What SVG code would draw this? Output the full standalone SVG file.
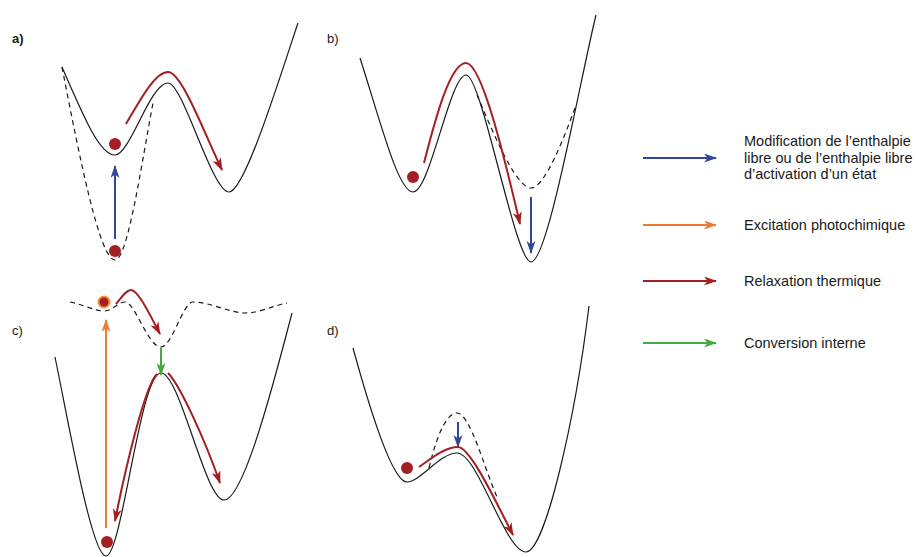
<svg xmlns="http://www.w3.org/2000/svg" width="916" height="557" viewBox="0 0 916 557">
<style>
.curve{fill:none;stroke:#1a1a1a;stroke-width:1.2}
.dash{fill:none;stroke:#1a1a1a;stroke-width:1.2;stroke-dasharray:5,4}
.red{fill:none;stroke:#a41f23;stroke-width:2;marker-end:url(#mRed)}
.blue{fill:none;stroke:#33479a;stroke-width:2;marker-end:url(#mBlue)}
.orange{fill:none;stroke:#ee7b30;stroke-width:2;marker-end:url(#mOrange)}
.green{fill:none;stroke:#45a845;stroke-width:2;marker-end:url(#mGreen)}
.ball{fill:#a41f23}
.lbl{font-family:"Liberation Sans",Arial,sans-serif;font-size:13px;fill:#1a1a1a}
.leg{font-family:"Liberation Sans",Arial,sans-serif;font-size:14.5px;fill:#1a1a1a}
</style>
<defs>
<marker id="mRed" markerUnits="userSpaceOnUse" markerWidth="14" markerHeight="10" refX="12" refY="4.5" orient="auto"><path d="M0,0 L13,4.5 L0,9 L3.5,4.5 z" fill="#a41f23"/></marker>
<marker id="mBlue" markerUnits="userSpaceOnUse" markerWidth="14" markerHeight="10" refX="12" refY="4.5" orient="auto"><path d="M0,0 L13,4.5 L0,9 L3.5,4.5 z" fill="#33479a"/></marker>
<marker id="mOrange" markerUnits="userSpaceOnUse" markerWidth="14" markerHeight="10" refX="12" refY="4.5" orient="auto"><path d="M0,0 L13,4.5 L0,9 L3.5,4.5 z" fill="#ee7b30"/></marker>
<marker id="mGreen" markerUnits="userSpaceOnUse" markerWidth="14" markerHeight="10" refX="12" refY="4.5" orient="auto"><path d="M0,0 L13,4.5 L0,9 L3.5,4.5 z" fill="#45a845"/></marker>
</defs>
<rect width="916" height="557" fill="#ffffff"/>

<g id="panel-a">
<text class="lbl" x="12" y="43" font-weight="bold">a)</text>
<path class="curve" d="M62,67 C85,120 100,155 115,155 C130,155 150,83 168,83 C183,83 212,192 229,192 C245,192 282,70 298,23"/>
<path class="dash" d="M62,67 C80,160 100,260 115,260 C128,260 142,160 153,103"/>
<circle class="ball" cx="115" cy="144" r="6"/>
<circle class="ball" cx="115" cy="251" r="6"/>
</g>

<g id="panel-b">
<text class="lbl" x="327" y="43">b)</text>
<path class="curve" d="M360,58 C380,120 398,192 413,192 C430,192 450,75 466,75 C482,75 515,262 531,262 C548,262 580,80 596,15"/>
<path class="dash" d="M477,95 C490,125 515,188 531,188 C545,188 565,135 575,108"/>
<circle class="ball" cx="413" cy="177" r="6"/>
</g>

<g id="panel-c">
<text class="lbl" x="12" y="335">c)</text>
<path class="curve" d="M55,357 C70,430 92,556 106,556 C122,556 140,373 161,373 C180,373 205,500 224,500 C243,500 272,390 292,313"/>
<path class="dash" d="M70,302 C85,305 95,311 104,311 C113,311 118,302 125,302 C135,302 148,347 161,347 C172,347 183,302 193,302 C210,302 230,313 245,313 C260,313 275,305 287,303"/>
<circle cx="104" cy="302" r="6.5" fill="#f0913a"/>
<circle class="ball" cx="104" cy="302" r="4.5"/>
<circle class="ball" cx="107" cy="542" r="6"/>
</g>

<g id="panel-d">
<text class="lbl" x="327" y="335">d)</text>
<path class="curve" d="M353,348 C370,410 392,482 407,482 C420,482 440,453 457,453 C478,453 505,552 526,552 C545,552 575,420 589,306"/>
<path class="dash" d="M429,468 C438,430 448,413 457,413 C470,413 485,470 497,497"/>
<circle class="ball" cx="407" cy="468" r="6"/>
</g>

<g id="connectors">
<path class="blue" d="M115,239 L115,166"/>
<path class="red" d="M126,124 C140,100 155,72 168,72 C182,72 205,135 222,170"/>
<path class="red" d="M424,163 C435,120 450,63 466,63 C482,63 505,160 520,224"/>
<path class="blue" d="M531,197 L531,253"/>
<path class="orange" d="M106,528 L106,320"/>
<path class="red" d="M116,304 C122,297 126,290 131,290 C138,290 150,315 160,334"/>
<path class="green" d="M161,348 L161,375"/>
<path class="red" d="M157,374 C145,385 125,470 115,521"/>
<path class="red" d="M168,373 C180,385 205,440 220,483"/>
<path class="blue" d="M458,422 L458,447"/>
<path class="red" d="M419,467 C432,458 445,447 458,447 C470,447 495,500 513,535"/>
</g>

<g id="legend">
<path class="blue" d="M643,158 L716,158"/>
<text class="leg" x="744" y="146">Modification de l’enthalpie</text>
<text class="leg" x="744" y="162.5">libre ou de l’enthalpie libre</text>
<text class="leg" x="744" y="179">d’activation d’un état</text>
<path class="orange" d="M643,225 L716,225"/>
<text class="leg" x="744" y="230">Excitation photochimique</text>
<path class="red" d="M643,281 L716,281"/>
<text class="leg" x="744" y="286">Relaxation thermique</text>
<path class="green" d="M643,343 L716,343"/>
<text class="leg" x="744" y="348">Conversion interne</text>
</g>
</svg>
